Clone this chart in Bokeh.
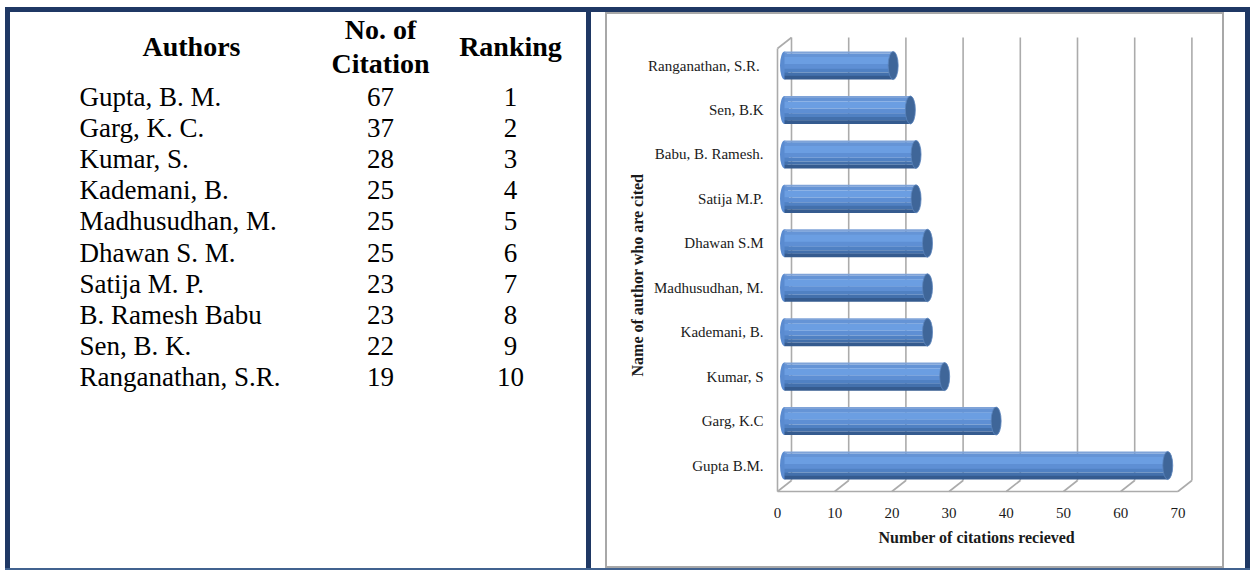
from bokeh.plotting import figure
from bokeh.models import Range1d, FixedTicker, Div, Title
from bokeh.layouts import row, column
from bokeh.core.properties import value
from bokeh.embed import file_html
from bokeh.resources import INLINE

# ---------------- data ----------------
table_authors = ["Gupta, B. M.", "Garg, K. C.", "Kumar, S.", "Kademani, B.", "Madhusudhan, M.",
                 "Dhawan S. M.", "Satija M. P.", "B. Ramesh Babu", "Sen, B. K.", "Ranganathan, S.R."]
table_citations = [67, 37, 28, 25, 25, 25, 23, 23, 22, 19]
table_ranking = [1, 2, 3, 4, 5, 6, 7, 8, 9, 10]
table_headers = ["Authors", "No. of", "Citation", "Ranking"]

# chart categories, bottom to top
chart_authors = ["Gupta B.M.", "Garg, K.C", "Kumar, S", "Kademani, B.", "Madhusudhan, M.",
                 "Dhawan S.M", "Satija M.P.", "Babu, B. Ramesh.", "Sen, B.K", "Ranganathan,  S.R."]
chart_citations = [67, 37, 28, 25, 25, 25, 23, 23, 22, 19]
x_ticks = [0, 10, 20, 30, 40, 50, 60, 70]
x_title = "Number of citations recieved"
y_title = "Name of author who are cited"

NAVY = "#1F3864"
BOX_GRAY = "#A8A8A8"
FONT = "Liberation Serif"
SERIF = value(FONT)


def strip(w, h, color, margin=(0, 0, 0, 0)):
    return Div(text="", width=w, height=h, margin=margin,
               styles={"background-color": color, "padding": "0px"})


# ---------------- left: table ----------------
t = figure(width=576, height=556, x_range=Range1d(10, 586), y_range=Range1d(495, 20),
           x_axis_type=None, y_axis_type=None, output_backend="svg", toolbar_location=None,
           min_border_left=0, min_border_right=0, min_border_top=8, min_border_bottom=73,
           outline_line_color=None, background_fill_color="white", border_fill_color="white")

SHIFT = -9.5
X_NAME, X_CIT, X_RANK = 79, 380, 510
ROW0, ROWH = 106 + SHIFT, 31.1
ys = [ROW0 + i * ROWH for i in range(len(table_authors))]

t.text(x=[191, X_CIT, X_CIT, X_RANK], y=[55 + SHIFT, 38 + SHIFT, 72 + SHIFT, 55 + SHIFT], text=table_headers,
       text_font=SERIF, text_font_size="28px", text_font_style="bold", text_align="center",
       text_baseline="alphabetic", text_color="black")
t.text(x=[X_NAME] * len(ys), y=ys, text=table_authors, text_font=SERIF, text_font_size="27px",
       text_align="left", text_baseline="alphabetic", text_color="black")
t.text(x=[X_CIT] * len(ys), y=ys, text=[str(c) for c in table_citations], text_font=SERIF,
       text_font_size="27px", text_align="center", text_baseline="alphabetic", text_color="black")
t.text(x=[X_RANK] * len(ys), y=ys, text=[str(r) for r in table_ranking], text_font=SERIF,
       text_font_size="27px", text_align="center", text_baseline="alphabetic", text_color="black")

# ---------------- right: 3-D style bar chart ----------------
PX_X = 5.72          # pixels per citation unit
PX_Y = 44.44         # pixels per category
x0 = -7 / PX_X
y0 = -30 / PX_Y
p = figure(width=615, height=552, x_range=Range1d(x0, x0 + 445 / PX_X),
           y_range=Range1d(y0, y0 + 475 / PX_Y), output_backend="svg", toolbar_location=None,
           min_border_left=163, min_border_right=7, min_border_top=6, min_border_bottom=71,
           outline_line_color=None, background_fill_color="white", border_fill_color="white")
p.xgrid.visible = False
p.ygrid.visible = False

# depth offsets of the pseudo-3D box
DX = 14 / PX_X
DY = 11 / PX_Y
FLOOR = -26 / PX_Y
WALL_TOP = 417 / PX_Y
GRID_C = "#ABABAB"

# back wall gridlines
p.segment(x0=[v + DX for v in x_ticks], y0=[FLOOR + DY] * len(x_ticks),
          x1=[v + DX for v in x_ticks], y1=[WALL_TOP + DY] * len(x_ticks), line_color=GRID_C, line_width=1.6)
# floor diagonals
p.segment(x0=x_ticks, y0=[FLOOR] * len(x_ticks), x1=[v + DX for v in x_ticks], y1=[FLOOR + DY] * len(x_ticks),
          line_color=GRID_C, line_width=1.6)
# floor front edge and left wall
p.segment(x0=[x_ticks[0], x_ticks[0], x_ticks[0]], y0=[FLOOR, FLOOR, WALL_TOP],
          x1=[x_ticks[-1], x_ticks[0], x_ticks[0] + DX], y1=[FLOOR, WALL_TOP, WALL_TOP + DY],
          line_color=GRID_C, line_width=1.6)

# cylinders
ypos = list(range(len(chart_authors)))
BX = 7 / PX_X
BAR_H = 28 / PX_Y
starts = [BX] * len(ypos)
ends = [c + BX for c in chart_citations]
p.ellipse(x=starts, y=ypos, width=9, height=28, width_units="screen", height_units="screen",
          fill_color="#5A8BD0", line_color=None)
bands = [(0.00, 0.07, "#7FA3D8"), (0.07, 0.20, "#6594D6"), (0.20, 0.45, "#6B9EE2"),
         (0.45, 0.62, "#5E8FD4"), (0.62, 0.75, "#5081C3"), (0.75, 0.87, "#4370AC"),
         (0.87, 1.00, "#355B8F")]
for a, b, col in bands:
    yc = [yv + BAR_H * (0.5 - (a + b) / 2) for yv in ypos]
    p.hbar(y=yc, left=starts, right=ends, height=BAR_H * (b - a) + 0.002, fill_color=col, line_color=None)
p.ellipse(x=ends, y=ypos, width=10, height=28, width_units="screen", height_units="screen",
          fill_color="#3F6699", line_color="#5A84BC", line_width=0.8)

# axes
p.xaxis.ticker = FixedTicker(ticks=x_ticks)
p.yaxis.ticker = FixedTicker(ticks=ypos)
p.yaxis.major_label_overrides = {i: n for i, n in zip(ypos, chart_authors)}
for ax in (p.xaxis[0], p.yaxis[0]):
    ax.axis_line_color = None
    ax.major_tick_line_color = None
    ax.minor_tick_line_color = None
    ax.major_tick_out = 0
    ax.major_tick_in = 0
    ax.minor_tick_out = 0
    ax.major_label_text_font = FONT
    ax.major_label_text_font_size = "15px"
    ax.major_label_text_color = "#1A1A1A"
p.xaxis.major_label_standoff = 12

p.yaxis.major_label_standoff = 7

# axis titles (placed where the original chart put them)
p.add_layout(Title(text=x_title, align="left", offset=108, standoff=13, text_font=FONT,
                   text_font_size="16px", text_font_style="bold", text_color="#1A1A1A"), "below")
p.add_layout(Title(text=y_title, align="left", offset=119, standoff=0, text_font=FONT,
                   text_font_size="16px", text_font_style="bold", text_color="#1A1A1A"), "left")

# ---------------- page frame ----------------
right_part = column(
    strip(619, 2, BOX_GRAY, margin=(0, 21, 0, 14)),
    row(strip(2, 552, BOX_GRAY, margin=(0, 0, 0, 14)), p, strip(2, 552, BOX_GRAY, margin=(0, 21, 0, 0)),
        spacing=0),
    strip(619, 2, BOX_GRAY, margin=(0, 21, 0, 14)),
    spacing=0,
)
middle = row(strip(5, 556, NAVY, margin=(0, 0, 0, 5)), t, strip(5, 556, NAVY), right_part,
             strip(5, 556, NAVY), spacing=0)
layout = column(strip(1245, 5, NAVY, margin=(7, 0, 0, 5)), middle,
                strip(1245, 2, "#41628F", margin=(0, 0, 0, 5)), spacing=0)

open("out.html", "w").write(file_html(layout, INLINE))
